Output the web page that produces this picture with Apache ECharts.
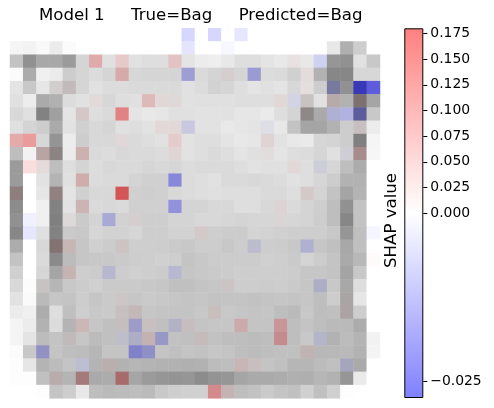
<!DOCTYPE html>
<html><head><meta charset="utf-8">
<style>html,body{margin:0;padding:0;background:#fff}#c{width:494px;height:408px}</style>
<script src="https://cdn.jsdelivr.net/npm/echarts@6/dist/echarts.min.js"></script>
</head><body><div id="c"></div>
<script>
const titleText = "Model 1     True=Bag     Predicted=Bag";
const barLabel = "SHAP value";
const tickValues = [-0.025, 0, 0.025, 0.05, 0.075, 0.1, 0.125, 0.15, 0.175];
const tickLabels = ["\u22120.025","0.000","0.025","0.050","0.075","0.100","0.125","0.150","0.175"];
const shapMin = -0.0275, shapMax = 0.18;

const pixelRows = [
[255,255,255,255,255,255,255,255,255,255,255,255,255,255,255,255,255,255,255,255,255,255,255,255,255,255,255,255],
[245,243,249,235,251,255,255,255,255,255,255,255,255,255,255,255,255,255,255,255,255,255,255,255,232,175,205,255],
[195,145,168,168,155,213,222,224,230,225,222,222,226,228,236,238,232,222,222,228,232,231,232,240,150,145,225,200],
[251,172,240,235,205,213,220,213,215,215,213,213,213,212,218,212,212,213,212,220,218,208,228,178,135,135,215,215],
[228,200,230,211,193,213,225,220,220,218,218,218,218,225,220,210,213,222,228,225,228,215,228,205,160,145,184,220],
[224,237,170,177,220,225,224,215,222,224,222,225,222,225,224,224,224,222,222,222,225,228,200,225,183,178,125,165],
[216,224,130,160,228,212,222,218,226,228,232,230,224,224,226,226,225,230,230,234,222,212,142,170,210,224,155,200],
[224,212,205,170,226,208,216,213,224,222,226,226,226,224,226,226,232,230,228,230,232,195,165,165,178,205,200,236],
[228,232,215,148,236,205,216,216,224,218,222,225,228,226,222,222,228,232,230,222,226,232,234,214,212,205,128,245],
[190,242,185,140,235,205,218,220,216,218,218,220,224,226,222,218,222,228,224,226,228,222,220,213,224,212,168,246],
[155,250,228,190,222,212,220,216,218,218,214,216,214,220,218,218,218,222,226,224,224,226,222,215,214,190,172,255],
[155,255,226,180,224,208,220,218,218,212,208,208,220,220,222,225,218,218,216,218,220,225,222,214,205,178,178,255],
[142,255,230,145,228,208,216,216,212,208,206,208,216,220,222,224,222,222,222,218,218,222,212,212,195,165,180,255],
[140,255,240,130,226,205,218,216,218,208,208,208,220,212,212,216,216,222,222,216,220,218,212,206,190,145,195,255],
[145,255,240,128,222,202,212,214,210,212,206,206,212,212,216,216,214,212,214,214,218,214,212,205,190,135,195,255],
[135,255,224,130,202,200,214,210,210,214,206,206,210,210,212,206,204,204,212,210,208,206,206,206,200,150,192,255],
[172,255,216,130,198,198,208,204,205,206,206,205,202,200,205,205,200,205,206,205,204,200,208,198,192,168,192,255],
[195,255,218,138,188,198,200,200,202,205,206,208,206,196,200,204,204,204,204,208,206,202,212,204,196,170,184,255],
[208,255,214,165,198,206,204,208,205,208,206,204,208,198,200,202,204,206,206,206,206,204,198,198,195,164,200,255],
[216,252,200,182,200,204,208,202,202,202,200,198,192,192,196,198,202,205,205,204,205,202,198,198,200,168,222,255],
[226,250,186,198,196,205,198,202,204,198,202,200,198,196,198,195,196,196,194,196,198,196,198,190,205,170,230,255],
[236,240,172,222,192,206,200,202,198,196,198,196,196,196,200,200,200,198,196,198,190,186,200,190,192,172,205,255],
[244,236,178,220,180,204,198,192,196,198,200,192,198,198,196,198,198,202,196,196,200,190,196,190,186,186,172,255],
[244,228,188,196,192,198,188,192,202,198,196,198,194,192,198,194,190,190,188,190,196,190,200,202,178,188,180,242],
[251,200,196,196,190,188,182,196,196,202,198,196,192,196,194,198,196,190,188,190,192,192,192,184,184,185,178,244],
[253,230,180,188,196,210,180,185,178,182,180,178,178,176,178,188,190,200,200,196,192,182,182,188,192,190,170,255],
[253,253,192,185,180,165,170,172,168,166,155,150,148,150,140,148,150,165,170,170,172,176,175,182,178,150,234,255],
[255,255,253,196,205,232,190,186,188,190,186,200,206,208,208,212,195,190,194,202,196,192,208,192,208,253,255,255]
];

// Non-zero SHAP cells: [row, column, value]
const shapCells = [
[0,13,-.0088],[0,15,-.0088],[0,17,-.0055],
[1,13,-.0058],[1,16,-.0017],
[2,6,.074],[2,8,.041],[2,12,.045],[2,21,.009],[2,23,-.0069],
[3,8,.063],[3,13,-.0116],[3,16,.009],[3,18,-.0124],[3,22,.011],
[4,3,.007],[4,4,.009],[4,22,.009],[4,24,-.0085],[4,26,-.0275],[4,27,-.0275],
[5,6,.009],[5,10,.052],[5,11,.014],[5,12,.009],[5,20,.014],[5,21,-.0036],[5,22,.007],[5,24,.018],[5,26,.018],
[6,5,.018],[6,8,.135],[6,22,.009],[6,24,-.0074],[6,25,-.0099],[6,26,-.0135],
[7,11,.014],[7,12,.014],[7,13,-.0052],[7,19,-.0017],[7,26,.011],
[8,0,.081],[8,1,.108],[8,8,.011],[8,12,.034],[8,19,.014],
[9,2,.029],[9,3,.011],[9,5,.04],[9,12,.016],[9,19,.007],[9,25,-.0014],[9,26,.04],
[10,1,.04],[10,2,.014],[10,21,.014],[10,23,-.0022],
[11,5,.05],[11,12,-.0184],
[12,0,.023],[12,3,.022],[12,8,.18],[12,22,.016],
[13,5,.036],[13,12,-.0162],[13,20,.011],
[14,1,-.0033],[14,4,.007],[14,7,-.0096],[14,9,.009],[14,20,.007],
[15,1,-.0055],[15,14,.016],[15,27,-.0022],
[16,3,.023],[16,4,.022],[16,8,.014],[16,18,-.0039],[16,22,-.0069],
[17,27,.007],
[18,4,.025],[18,7,-.0055],[18,12,-.0052],
[19,2,.007],[19,16,.009],[19,23,-.0055],
[20,8,.009],[20,25,.007],
[21,8,.009],[21,9,.018],[21,15,.014],[21,25,.011],
[22,5,.029],[22,8,.009],[22,9,-.0091],[22,10,.011],[22,12,-.0044],[22,13,.011],[22,17,.045],[22,20,.07],
[23,4,.009],[23,8,-.0025],[23,9,-.0055],[23,10,.025],[23,11,-.0099],[23,14,.016],[23,20,.079],[23,23,-.0047],
[24,2,-.011],[24,9,-.0157],[24,10,-.0116],[24,22,.018],
[25,5,-.0044],[25,7,.014],[25,17,.025],[25,18,.014],[25,25,-.0055],
[26,3,.018],[26,5,.061],[26,8,.088],
[27,15,.104],[27,16,.023]
];

const idx = pixelRows[0].map((_, i) => i);
const shapLookup = {};
shapCells.forEach(([r, c, v]) => { shapLookup[r + "," + c] = v; });

// Picture and SHAP value are blended into one fill: a half-opaque bwr colour over the grey picture.
function cellColor(p, v) {
  const t = v < 0 ? 127.5 * (v / shapMin) : 0;
  const s = v > 0 ? 127.5 * (v / shapMax) : 0;
  const g = Math.round(p - s - t);
  return v < 0 ? `rgb(${g},${g},${p})` : `rgb(${p},${g},${g})`;
}
const cellData = [];
pixelRows.forEach((row, r) => row.forEach((p, c) => {
  const v = shapLookup[r + "," + c] || 0;
  cellData.push({value: [c, r, v], itemStyle: {color: cellColor(p, v)}});
}));

const norm = v => v < 0 ? 0.5 - 0.5 * v / shapMin : 0.5 + 0.5 * v / shapMax;
const tickNorms = tickValues.map(norm);

const chart = echarts.init(document.getElementById('c'), null, {renderer: 'canvas'});
const F = '"DejaVu Sans"';
chart.setOption({
  animation: false,
  backgroundColor: '#fff',
  title: {text: titleText, left: 39, top: 7, padding: 0,
    textStyle: {fontFamily: F, fontSize: 16.6, fontWeight: 'normal', color: '#000'}},
  grid: [
    {left: 10, top: 28.3, width: 370, height: 370, containLabel: false},
    {left: 404.3, top: 28.3, width: 19, height: 369.7, containLabel: false}
  ],
  xAxis: [
    {type: 'category', data: idx, gridIndex: 0, show: false},
    {type: 'category', data: ['bar'], gridIndex: 1, show: false}
  ],
  yAxis: [
    {type: 'category', data: idx, gridIndex: 0, inverse: true, show: false},
    {type: 'value', gridIndex: 1, min: 0, max: 1, position: 'right',
     axisLine: {show: false}, splitLine: {show: false},
     axisTick: {show: true, length: 4, lineStyle: {color: '#000', width: 1}, customValues: tickNorms},
     axisLabel: {show: true, margin: 7, color: '#000', fontFamily: F, fontSize: 13.9, customValues: tickNorms,
       formatter: val => { const i = tickNorms.findIndex(n => Math.abs(n - val) < 1e-6); return i < 0 ? '' : tickLabels[i]; }}}
  ],
  series: [
    {type: 'heatmap', data: cellData, xAxisIndex: 0, yAxisIndex: 0, progressive: 0, emphasis: {disabled: true}},
    {type: 'bar', data: [1], xAxisIndex: 1, yAxisIndex: 1, barWidth: '100%', silent: true,
     itemStyle: {borderColor: '#000', borderWidth: 1,
       color: {type: 'linear', x: 0, y: 0, x2: 0, y2: 1, colorStops: [
         {offset: 0, color: 'rgb(255,128,128)'},
         {offset: 0.5, color: '#ffffff'},
         {offset: 1, color: 'rgb(128,128,255)'}]}}}
  ],
  graphic: [{type: 'text', x: 392, y: 220.5, rotation: Math.PI / 2,
    style: {text: barLabel, fontFamily: F, fontSize: 16.6, fill: '#000', align: 'center', verticalAlign: 'middle'}}]
});
</script></body></html>
